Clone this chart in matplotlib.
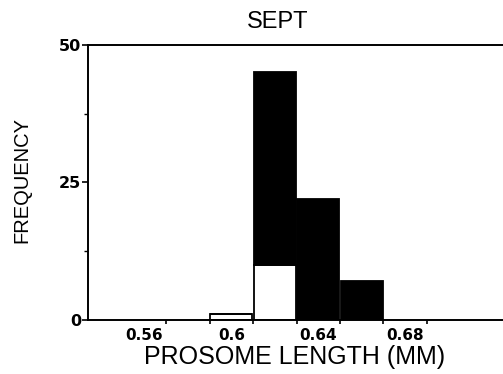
import numpy as np
import matplotlib
matplotlib.use("Agg")
import matplotlib.pyplot as plt

# bin centres (mm) and counts
bin_centres = [0.60, 0.62, 0.64, 0.66]
white_counts = [1, 10, 0, 0]
black_counts = [0, 35, 22, 7]
bin_width = 0.02

tick_edges = [0.57, 0.59, 0.61, 0.63, 0.65, 0.67, 0.69]
label_pos = [0.56, 0.60, 0.64, 0.68]
label_txt = ["0.56", "0.6", "0.64", "0.68"]

fig = plt.figure(figsize=(5.03, 3.74), dpi=100)
ax = fig.add_axes([88 / 503, 0.1457, 1 - 88 / 503, 0.734])

ax.bar(bin_centres, white_counts, width=bin_width * 0.97, color="white",
       edgecolor="black", linewidth=1.3)
ax.bar(bin_centres, black_counts, width=bin_width * 0.97, bottom=white_counts,
       color="black", edgecolor="black", linewidth=1.3)

ax.set_xlim(0.534, 0.725)
ax.set_ylim(0, 50)

ax.spines["right"].set_visible(False)
for s in ["left", "top", "bottom"]:
    ax.spines[s].set_linewidth(1.4)

# edge ticks without labels, labels at bin centres
ax.set_xticks(tick_edges)
ax.set_xticklabels([])
ax.set_xticks(label_pos, minor=True)
ax.set_xticklabels(label_txt, minor=True, fontfamily="DejaVu Sans",
                   fontweight="bold", fontsize=11)
ax.tick_params(axis="x", which="major", direction="out", length=3, width=1.2)
ax.tick_params(axis="x", which="minor", length=0, pad=6)

ax.set_yticks([0, 25, 50])
ax.set_yticklabels(["0", "25", "50"], fontfamily="DejaVu Sans",
                   fontweight="bold", fontsize=11.5)
ax.set_yticks([12.5, 37.5], minor=True)
ax.tick_params(axis="y", which="major", direction="out", length=4, width=1.2, pad=1)
ax.tick_params(axis="y", which="minor", direction="out", length=3, width=1.0)

fig.text(278 / 503, 1 - 22 / 374, "SEPT", fontfamily="Liberation Sans",
         fontsize=17, ha="center", va="center")
fig.text(22 / 503, 1 - 180 / 374, "FREQUENCY", fontfamily="Liberation Sans",
         fontsize=14.5, rotation=90, ha="center", va="center")
fig.text(295 / 503, 1 - 357 / 374, "PROSOME LENGTH (MM)",
         fontfamily="Liberation Sans", fontsize=18, ha="center", va="center")

fig.savefig("out.png", dpi=100)
